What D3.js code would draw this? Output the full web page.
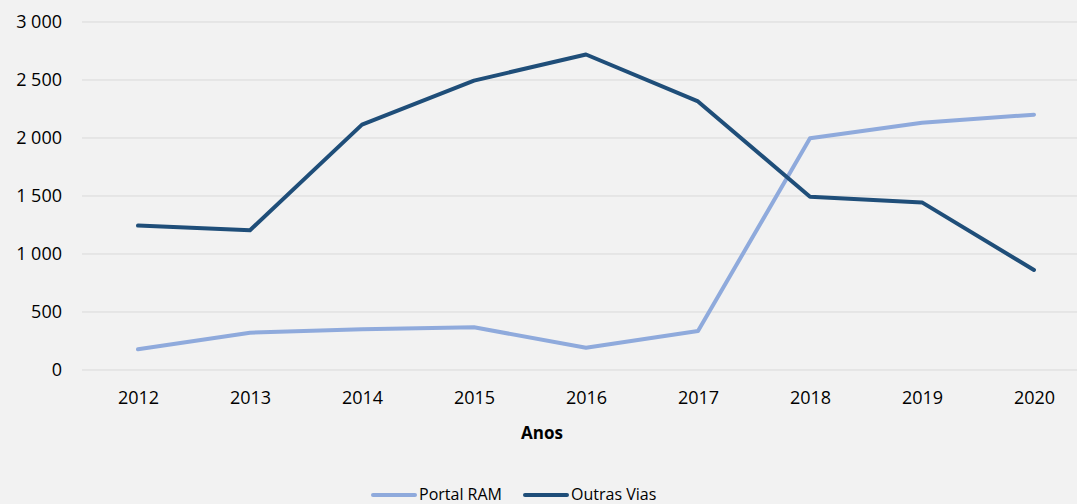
<!DOCTYPE html>
<html>
<head>
<meta charset="utf-8">
<script src="https://cdn.jsdelivr.net/npm/d3@7"></script>
<style>
  html, body { margin: 0; padding: 0; background: #f2f2f2; }
  svg { display: block; font-family: "Open Sans", sans-serif; }
</style>
</head>
<body>
<script>
const years = ["2012", "2013", "2014", "2015", "2016", "2017", "2018", "2019", "2020"];
const portalRam = [178, 322, 351, 368, 192, 336, 1997, 2132, 2201];
const outrasVias = [1245, 1205, 2115, 2495, 2720, 2315, 1494, 1445, 862];
const yTicks = [0, 500, 1000, 1500, 2000, 2500, 3000];
const seriesNames = ["Portal RAM", "Outras Vias"];
const seriesColors = ["#8faadc", "#1f4e79"];

const W = 1077, H = 504;
const svg = d3.select("body").append("svg").attr("width", W).attr("height", H);
svg.append("rect").attr("width", W).attr("height", H).attr("fill", "#f2f2f2");

const x = d3.scalePoint().domain(years).range([82, 1090]).padding(0.5);
const y = d3.scaleLinear().domain([0, 3000]).range([370, 22]);

// gridlines
svg.append("g").attr("class", "grid")
  .selectAll("line").data(yTicks).enter()
  .append("line")
    .attr("x1", 82).attr("x2", W)
    .attr("y1", d => y(d)).attr("y2", d => y(d))
    .attr("stroke", "#d9d9d9").attr("stroke-width", 1);

// y axis labels
const fmt = d => d3.format(",")(d).replace(/,/g, " ");
const axisY = d3.axisLeft(y).tickValues(yTicks).tickFormat(fmt).tickSize(0).tickPadding(0);
svg.append("g").attr("transform", "translate(62,0)").call(axisY)
  .call(g => g.select(".domain").remove())
  .selectAll("text").attr("fill", "#000").style("font-size", "18px")
  .style("font-family", "'Open Sans', sans-serif");

// x axis labels
const axisX = d3.axisBottom(x).tickSize(0).tickPadding(21);
svg.append("g").attr("transform", "translate(0,370)").call(axisX)
  .call(g => g.select(".domain").remove())
  .selectAll("text").attr("fill", "#000").style("font-size", "18px")
  .style("font-family", "'Open Sans', sans-serif");

// axis title
svg.append("text").text("Anos")
  .attr("x", 542).attr("y", 439)
  .attr("text-anchor", "middle").attr("font-weight", "bold")
  .style("font-size", "17px");

// lines
const line = d3.line().x((d, i) => x(years[i])).y(d => y(d));
[portalRam, outrasVias].forEach((vals, k) => {
  svg.append("path").datum(vals)
    .attr("d", line)
    .attr("fill", "none")
    .attr("stroke", seriesColors[k])
    .attr("stroke-width", 4)
    .attr("stroke-linejoin", "round")
    .attr("stroke-linecap", "round");
});

// legend
const legendX = [373, 525];
const legend = svg.append("g").attr("class", "legend");
seriesNames.forEach((name, k) => {
  legend.append("line")
    .attr("x1", legendX[k]).attr("x2", legendX[k] + 42)
    .attr("y1", 495).attr("y2", 495)
    .attr("stroke", seriesColors[k]).attr("stroke-width", 4)
    .attr("stroke-linecap", "round");
  legend.append("text").text(name)
    .attr("x", legendX[k] + 46).attr("y", 500)
    .style("font-size", "16px");
});
</script>
</body>
</html>
